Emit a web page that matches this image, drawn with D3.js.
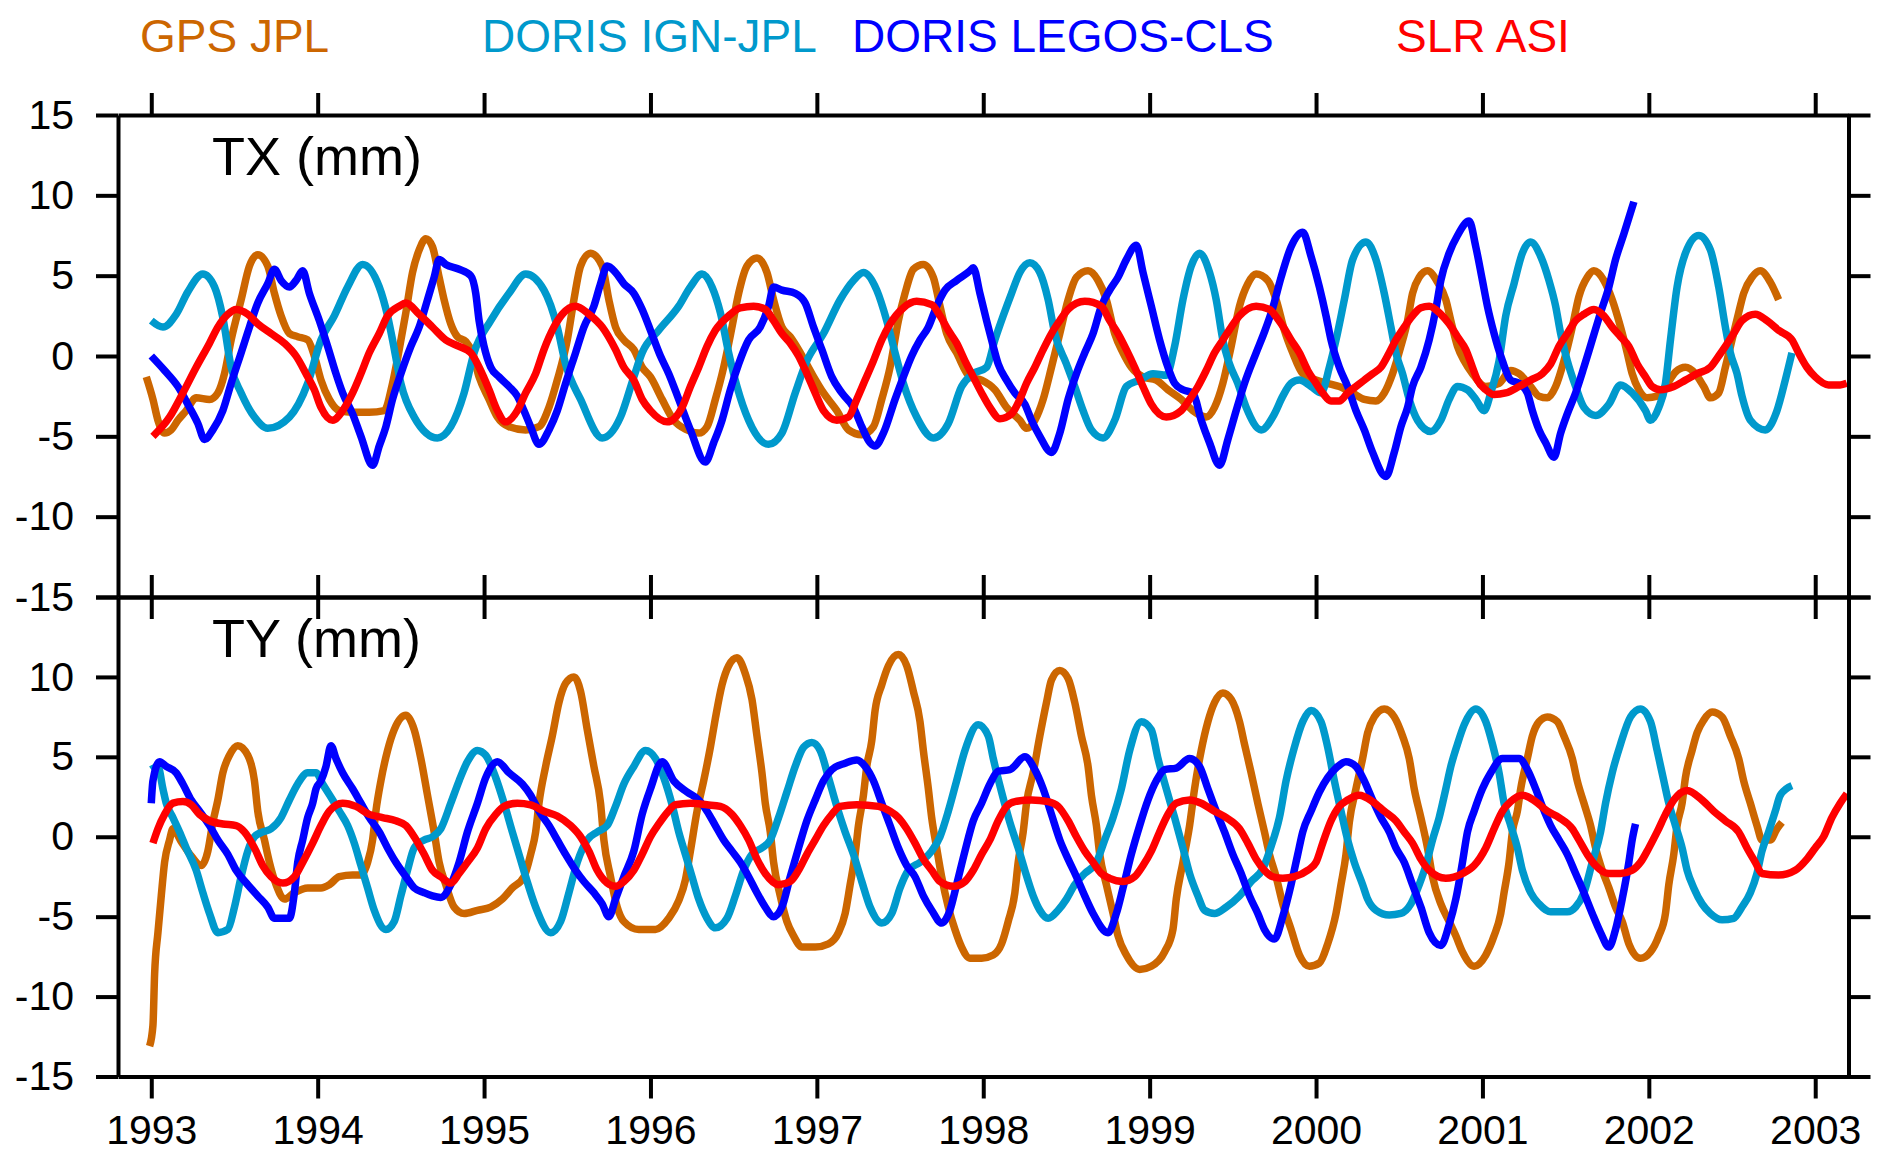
<!DOCTYPE html>
<meta charset="utf-8">
<style>
  body { margin: 0; background: #fff; }
  svg text { font-family: "Liberation Sans", Arial, sans-serif; }
</style>
<div id="container"></div>
<script src="https://cdn.jsdelivr.net/npm/d3@7"></script>
<script>

const names = ['GPS JPL', 'DORIS IGN-JPL', 'DORIS LEGOS-CLS', 'SLR ASI'];
const colors = ['#cc6600', '#0099cc', '#0000ff', '#ff0000'];
const years = [1993, 1994, 1995, 1996, 1997, 1998, 1999, 2000, 2001, 2002, 2003];
const yTicks = [15, 10, 5, 0, -5, -10, -15];

// [decimal year, mm]
const txGps = [[1992.97,-1.3],[1993.01,-2.7],[1993.04,-4.0],[1993.08,-4.8],[1993.12,-4.6],[1993.16,-4.0],[1993.21,-3.4],[1993.27,-2.6],[1993.35,-2.7],[1993.40,-2.3],[1993.44,-1.1],[1993.48,1.0],[1993.54,3.5],[1993.59,5.6],[1993.64,6.3],[1993.70,5.6],[1993.74,3.9],[1993.78,2.5],[1993.83,1.4],[1993.88,1.2],[1993.94,1.0],[1993.98,0.0],[1994.02,-1.5],[1994.07,-2.7],[1994.13,-3.4],[1994.21,-3.5],[1994.31,-3.5],[1994.40,-3.4],[1994.45,-1.7],[1994.49,0.4],[1994.53,2.7],[1994.57,5.2],[1994.61,6.6],[1994.65,7.3],[1994.69,6.8],[1994.73,4.9],[1994.76,3.5],[1994.80,2.0],[1994.84,1.2],[1994.89,0.9],[1994.93,0.2],[1994.97,-1.3],[1995.03,-2.7],[1995.08,-3.8],[1995.15,-4.4],[1995.25,-4.6],[1995.33,-4.4],[1995.39,-3.2],[1995.44,-1.5],[1995.50,1.0],[1995.54,3.5],[1995.58,5.6],[1995.64,6.4],[1995.71,5.6],[1995.75,3.5],[1995.79,1.8],[1995.84,1.0],[1995.90,0.4],[1995.95,-0.7],[1996.00,-1.3],[1996.07,-2.7],[1996.14,-4.0],[1996.22,-4.6],[1996.29,-4.8],[1996.34,-4.4],[1996.39,-2.7],[1996.44,-0.7],[1996.49,1.8],[1996.53,3.9],[1996.58,5.6],[1996.64,6.1],[1996.70,5.2],[1996.74,3.5],[1996.79,1.8],[1996.84,1.2],[1996.89,0.4],[1996.97,-1.1],[1997.04,-2.3],[1997.12,-3.4],[1997.19,-4.6],[1997.27,-4.9],[1997.34,-4.4],[1997.39,-2.7],[1997.44,-0.7],[1997.49,2.2],[1997.53,3.9],[1997.58,5.4],[1997.64,5.7],[1997.70,4.9],[1997.74,3.1],[1997.78,1.4],[1997.84,0.2],[1997.92,-1.3],[1997.99,-1.5],[1998.07,-2.1],[1998.14,-3.2],[1998.22,-4.0],[1998.26,-4.5],[1998.31,-4.0],[1998.36,-2.7],[1998.41,-0.7],[1998.46,1.4],[1998.51,3.5],[1998.56,4.9],[1998.63,5.3],[1998.69,4.7],[1998.74,3.5],[1998.79,1.4],[1998.84,0.2],[1998.89,-0.7],[1998.96,-1.3],[1999.04,-1.5],[1999.11,-2.1],[1999.19,-2.7],[1999.26,-3.4],[1999.34,-3.8],[1999.39,-3.2],[1999.44,-1.7],[1999.49,0.6],[1999.54,3.1],[1999.59,4.5],[1999.64,5.1],[1999.71,4.7],[1999.76,3.5],[1999.81,1.6],[1999.86,0.2],[1999.92,-1.1],[2000.00,-1.5],[2000.07,-1.7],[2000.14,-1.9],[2000.22,-2.3],[2000.29,-2.7],[2000.36,-2.8],[2000.41,-2.3],[2000.46,-1.1],[2000.51,0.6],[2000.55,2.2],[2000.58,3.9],[2000.62,4.9],[2000.67,5.3],[2000.73,4.6],[2000.78,3.5],[2000.81,2.2],[2000.85,0.6],[2000.89,-0.3],[2000.94,-1.1],[2001.02,-1.9],[2001.10,-1.7],[2001.17,-0.9],[2001.22,-1.1],[2001.29,-1.9],[2001.34,-2.5],[2001.39,-2.6],[2001.44,-1.9],[2001.49,-0.3],[2001.54,1.8],[2001.58,3.7],[2001.63,4.9],[2001.67,5.3],[2001.73,4.7],[2001.78,3.5],[2001.83,1.8],[2001.87,0.2],[2001.90,-1.1],[2001.94,-2.1],[2001.99,-2.6],[2002.05,-2.5],[2002.10,-1.9],[2002.16,-1.0],[2002.22,-0.7],[2002.28,-1.1],[2002.33,-1.9],[2002.37,-2.6],[2002.42,-2.3],[2002.46,-0.7],[2002.50,1.0],[2002.54,2.7],[2002.57,3.9],[2002.62,4.9],[2002.67,5.3],[2002.73,4.6],[2002.78,3.5]];

const txIgn = [[1993.00,2.2],[1993.07,1.8],[1993.15,2.6],[1993.22,4.0],[1993.31,5.1],[1993.38,4.3],[1993.43,2.4],[1993.48,-0.7],[1993.54,-2.3],[1993.62,-3.8],[1993.70,-4.5],[1993.83,-3.8],[1993.94,-1.7],[1994.02,1.0],[1994.10,2.5],[1994.18,4.3],[1994.27,5.7],[1994.37,4.3],[1994.42,2.5],[1994.45,1.0],[1994.50,-1.7],[1994.58,-3.8],[1994.72,-5.1],[1994.80,-4.4],[1994.88,-2.3],[1994.94,0.2],[1995.04,2.2],[1995.15,3.9],[1995.25,5.1],[1995.36,4.1],[1995.44,1.8],[1995.49,-0.5],[1995.58,-2.7],[1995.71,-5.1],[1995.82,-3.8],[1995.90,-1.3],[1995.95,0.2],[1996.05,1.6],[1996.17,3.1],[1996.24,4.3],[1996.31,5.1],[1996.37,4.3],[1996.42,2.7],[1996.47,0.2],[1996.52,-1.9],[1996.59,-4.0],[1996.71,-5.5],[1996.79,-4.8],[1996.87,-2.3],[1996.94,-0.3],[1997.04,1.4],[1997.14,3.5],[1997.22,4.7],[1997.28,5.2],[1997.36,4.1],[1997.42,2.2],[1997.47,0.2],[1997.52,-1.7],[1997.60,-3.8],[1997.70,-5.1],[1997.79,-4.2],[1997.87,-1.9],[1997.94,-1.1],[1998.02,-0.7],[1998.07,1.0],[1998.12,2.5],[1998.17,3.9],[1998.22,5.2],[1998.28,5.8],[1998.34,5.2],[1998.39,3.5],[1998.43,1.4],[1998.50,-0.5],[1998.55,-1.9],[1998.60,-3.4],[1998.65,-4.6],[1998.72,-5.1],[1998.79,-4.0],[1998.86,-1.9],[1998.94,-1.5],[1999.02,-1.1],[1999.10,-1.2],[1999.15,0.6],[1999.20,3.5],[1999.25,5.6],[1999.30,6.4],[1999.36,5.2],[1999.40,3.5],[1999.44,1.0],[1999.48,-0.5],[1999.53,-1.7],[1999.58,-3.2],[1999.67,-4.6],[1999.75,-3.6],[1999.80,-2.5],[1999.85,-1.7],[1999.90,-1.5],[1999.97,-1.9],[2000.03,-2.3],[2000.08,-0.7],[2000.12,1.0],[2000.17,3.5],[2000.22,6.0],[2000.30,7.1],[2000.36,6.0],[2000.41,3.9],[2000.45,1.8],[2000.48,0.2],[2000.52,-1.1],[2000.56,-2.7],[2000.61,-4.0],[2000.69,-4.7],[2000.75,-4.0],[2000.80,-2.7],[2000.85,-1.9],[2000.91,-2.1],[2000.96,-2.7],[2001.01,-3.4],[2001.05,-2.3],[2001.10,-0.3],[2001.14,2.5],[2001.19,4.5],[2001.24,6.4],[2001.29,7.1],[2001.35,6.2],[2001.40,4.7],[2001.44,3.1],[2001.47,1.4],[2001.51,-0.3],[2001.56,-1.9],[2001.61,-3.2],[2001.68,-3.7],[2001.76,-3.0],[2001.83,-1.8],[2001.90,-2.3],[2001.98,-3.4],[2002.01,-4.0],[2002.06,-3.2],[2002.10,-1.7],[2002.13,1.0],[2002.17,4.3],[2002.22,6.4],[2002.30,7.5],[2002.37,6.6],[2002.42,4.3],[2002.46,1.8],[2002.49,0.2],[2002.53,-1.1],[2002.56,-2.5],[2002.61,-4.0],[2002.70,-4.6],[2002.77,-3.4],[2002.82,-1.5],[2002.86,0.2]];

const txLegos = [[1993.00,0.0],[1993.08,-0.9],[1993.16,-1.9],[1993.23,-3.2],[1993.28,-4.2],[1993.32,-5.2],[1993.37,-4.6],[1993.43,-3.4],[1993.48,-1.7],[1993.54,0.2],[1993.59,1.8],[1993.64,3.3],[1993.70,4.5],[1993.74,5.4],[1993.78,4.7],[1993.83,4.3],[1993.87,4.7],[1993.91,5.3],[1993.95,3.9],[1994.01,2.2],[1994.06,0.6],[1994.11,-1.1],[1994.15,-2.3],[1994.21,-3.6],[1994.26,-5.0],[1994.33,-6.8],[1994.37,-5.6],[1994.41,-4.4],[1994.45,-2.7],[1994.50,-1.1],[1994.56,0.6],[1994.61,1.8],[1994.66,3.5],[1994.70,4.9],[1994.73,6.0],[1994.77,5.7],[1994.85,5.4],[1994.92,5.0],[1994.95,3.9],[1994.97,2.2],[1995.00,0.6],[1995.04,-0.7],[1995.09,-1.3],[1995.15,-1.9],[1995.20,-2.5],[1995.24,-3.4],[1995.28,-4.4],[1995.33,-5.5],[1995.39,-4.6],[1995.44,-3.4],[1995.49,-1.7],[1995.55,0.2],[1995.60,1.8],[1995.66,3.1],[1995.70,4.5],[1995.74,5.6],[1995.79,5.2],[1995.84,4.5],[1995.90,3.9],[1995.95,2.9],[1996.00,1.6],[1996.06,0.0],[1996.11,-1.1],[1996.17,-2.7],[1996.24,-4.6],[1996.33,-6.6],[1996.38,-5.4],[1996.43,-4.0],[1996.48,-2.1],[1996.53,-0.5],[1996.59,1.0],[1996.66,1.8],[1996.71,3.1],[1996.74,4.3],[1996.79,4.1],[1996.87,3.9],[1996.93,3.3],[1996.98,1.8],[1997.03,0.4],[1997.09,-1.3],[1997.15,-2.3],[1997.22,-3.2],[1997.27,-4.4],[1997.32,-5.4],[1997.35,-5.6],[1997.40,-4.8],[1997.47,-2.7],[1997.52,-1.3],[1997.57,0.0],[1997.62,1.0],[1997.67,1.8],[1997.72,3.1],[1997.77,4.1],[1997.84,4.7],[1997.92,5.3],[1997.94,5.5],[1997.98,3.9],[1998.02,2.2],[1998.05,1.0],[1998.09,-0.5],[1998.14,-1.5],[1998.19,-2.3],[1998.25,-3.0],[1998.29,-4.0],[1998.34,-5.0],[1998.41,-6.0],[1998.46,-4.8],[1998.51,-2.7],[1998.56,-1.1],[1998.61,0.2],[1998.66,1.4],[1998.71,3.1],[1998.76,4.1],[1998.81,4.9],[1998.86,6.0],[1998.92,6.9],[1998.96,5.2],[1999.01,3.1],[1999.06,1.0],[1999.11,-0.7],[1999.15,-1.7],[1999.20,-2.1],[1999.26,-2.3],[1999.31,-4.0],[1999.36,-5.4],[1999.42,-6.8],[1999.47,-5.2],[1999.52,-3.4],[1999.57,-1.7],[1999.64,0.2],[1999.69,1.5],[1999.74,3.0],[1999.79,4.9],[1999.85,6.8],[1999.92,7.7],[1999.97,6.2],[2000.02,4.3],[2000.06,2.5],[2000.09,1.0],[2000.14,-0.7],[2000.19,-1.9],[2000.24,-3.4],[2000.29,-4.6],[2000.34,-6.0],[2000.42,-7.5],[2000.47,-6.0],[2000.51,-4.4],[2000.55,-3.2],[2000.58,-1.9],[2000.63,-0.7],[2000.68,1.0],[2000.72,2.9],[2000.75,4.7],[2000.80,6.4],[2000.85,7.5],[2000.92,8.4],[2000.96,6.8],[2001.00,4.7],[2001.03,3.1],[2001.07,1.4],[2001.12,-0.3],[2001.17,-1.5],[2001.22,-1.7],[2001.27,-2.3],[2001.30,-3.4],[2001.34,-4.6],[2001.38,-5.4],[2001.43,-6.3],[2001.47,-4.8],[2001.51,-3.6],[2001.56,-2.3],[2001.61,-0.7],[2001.66,1.0],[2001.71,2.7],[2001.76,4.3],[2001.80,6.0],[2001.85,7.6],[2001.91,9.6]];

const txSlr = [[1993.01,-5.0],[1993.11,-3.8],[1993.19,-2.3],[1993.27,-0.7],[1993.35,0.8],[1993.40,1.8],[1993.46,2.6],[1993.51,2.9],[1993.58,2.6],[1993.64,2.0],[1993.72,1.4],[1993.80,0.8],[1993.87,0.0],[1993.93,-1.1],[1993.98,-2.1],[1994.02,-3.2],[1994.09,-4.0],[1994.15,-3.4],[1994.21,-2.3],[1994.26,-1.1],[1994.31,0.2],[1994.37,1.4],[1994.42,2.5],[1994.49,3.1],[1994.53,3.3],[1994.61,2.6],[1994.69,1.8],[1994.77,1.0],[1994.85,0.6],[1994.92,0.2],[1994.97,-0.7],[1995.03,-2.1],[1995.08,-3.4],[1995.13,-4.1],[1995.20,-3.4],[1995.25,-2.3],[1995.31,-1.1],[1995.36,0.4],[1995.42,1.8],[1995.47,2.6],[1995.55,3.1],[1995.63,2.6],[1995.71,1.8],[1995.79,0.4],[1995.84,-0.7],[1995.90,-1.5],[1995.95,-2.7],[1996.00,-3.4],[1996.10,-4.1],[1996.19,-3.2],[1996.24,-1.9],[1996.29,-0.7],[1996.34,0.6],[1996.39,1.6],[1996.47,2.5],[1996.54,3.0],[1996.62,3.1],[1996.69,2.9],[1996.74,2.2],[1996.79,1.4],[1996.84,0.8],[1996.89,0.0],[1996.94,-1.1],[1996.99,-2.3],[1997.04,-3.4],[1997.12,-4.0],[1997.19,-3.8],[1997.24,-2.7],[1997.29,-1.5],[1997.34,-0.3],[1997.39,1.0],[1997.44,2.0],[1997.52,3.0],[1997.60,3.4],[1997.69,3.2],[1997.74,2.5],[1997.79,1.6],[1997.84,0.8],[1997.89,-0.3],[1997.94,-1.3],[1997.99,-2.3],[1998.04,-3.2],[1998.10,-3.9],[1998.17,-3.6],[1998.22,-2.7],[1998.26,-1.7],[1998.31,-0.7],[1998.36,0.4],[1998.41,1.4],[1998.46,2.2],[1998.51,2.9],[1998.61,3.4],[1998.71,3.1],[1998.76,2.2],[1998.81,1.4],[1998.86,0.4],[1998.91,-0.7],[1998.96,-1.9],[1999.01,-3.0],[1999.10,-3.8],[1999.19,-3.4],[1999.24,-2.7],[1999.29,-1.9],[1999.34,-0.9],[1999.39,0.2],[1999.44,1.0],[1999.49,1.8],[1999.54,2.5],[1999.64,3.1],[1999.72,2.9],[1999.77,2.3],[1999.81,1.7],[1999.85,1.0],[1999.90,0.2],[1999.95,-0.9],[2000.00,-1.7],[2000.04,-2.3],[2000.09,-2.8],[2000.14,-2.8],[2000.19,-2.3],[2000.24,-1.9],[2000.29,-1.5],[2000.34,-1.1],[2000.39,-0.7],[2000.44,0.2],[2000.48,1.0],[2000.53,1.8],[2000.58,2.5],[2000.63,3.0],[2000.68,3.1],[2000.75,2.6],[2000.80,2.0],[2000.85,1.2],[2000.90,0.4],[2000.94,-0.7],[2000.97,-1.5],[2001.02,-2.1],[2001.07,-2.4],[2001.14,-2.3],[2001.22,-1.9],[2001.29,-1.5],[2001.36,-1.1],[2001.41,-0.5],[2001.46,0.6],[2001.51,1.4],[2001.56,2.2],[2001.61,2.6],[2001.67,2.9],[2001.73,2.5],[2001.78,1.8],[2001.83,1.2],[2001.88,0.6],[2001.93,-0.5],[2001.98,-1.3],[2002.02,-1.9],[2002.07,-2.1],[2002.15,-1.9],[2002.22,-1.5],[2002.29,-1.1],[2002.37,-0.7],[2002.42,0.0],[2002.46,0.6],[2002.51,1.4],[2002.56,2.2],[2002.64,2.6],[2002.71,2.2],[2002.78,1.6],[2002.86,1.0],[2002.90,0.2],[2002.95,-0.7],[2003.00,-1.3],[2003.08,-1.8],[2003.15,-1.8],[2003.19,-1.7]];

const tyGps = [[1992.99,-13.1],[1993.01,-11.8],[1993.02,-8.6],[1993.04,-6.0],[1993.06,-3.7],[1993.08,-1.6],[1993.11,-0.2],[1993.13,0.5],[1993.18,-0.3],[1993.24,-1.2],[1993.30,-1.8],[1993.34,-0.9],[1993.37,0.9],[1993.40,2.3],[1993.43,4.0],[1993.47,5.1],[1993.52,5.7],[1993.58,5.1],[1993.62,3.5],[1993.64,1.6],[1993.68,-0.2],[1993.71,-1.6],[1993.75,-3.0],[1993.80,-3.9],[1993.86,-3.5],[1993.94,-3.2],[1994.02,-3.2],[1994.07,-3.0],[1994.13,-2.5],[1994.21,-2.4],[1994.26,-2.4],[1994.30,-1.6],[1994.33,-0.2],[1994.35,1.6],[1994.38,3.5],[1994.42,5.4],[1994.46,6.7],[1994.53,7.6],[1994.58,6.7],[1994.62,4.9],[1994.66,2.6],[1994.70,0.3],[1994.73,-1.6],[1994.77,-3.0],[1994.82,-4.4],[1994.88,-4.8],[1994.96,-4.6],[1995.04,-4.4],[1995.11,-3.9],[1995.17,-3.2],[1995.24,-2.5],[1995.28,-1.1],[1995.31,0.3],[1995.33,2.1],[1995.37,4.4],[1995.41,6.3],[1995.45,8.4],[1995.49,9.6],[1995.54,10.0],[1995.58,9.1],[1995.62,6.7],[1995.66,4.4],[1995.70,2.1],[1995.72,-0.2],[1995.76,-2.5],[1995.80,-4.4],[1995.84,-5.3],[1995.93,-5.8],[1996.03,-5.8],[1996.11,-5.1],[1996.17,-4.0],[1996.21,-2.7],[1996.24,-0.9],[1996.28,1.6],[1996.32,3.5],[1996.36,5.6],[1996.39,7.4],[1996.43,9.5],[1996.47,10.7],[1996.52,11.2],[1996.57,10.2],[1996.61,8.6],[1996.64,6.3],[1996.67,4.0],[1996.69,2.1],[1996.72,0.3],[1996.74,-1.6],[1996.78,-3.7],[1996.82,-5.3],[1996.86,-6.2],[1996.91,-6.9],[1996.99,-6.9],[1997.07,-6.7],[1997.13,-6.0],[1997.17,-4.8],[1997.20,-3.0],[1997.23,-1.1],[1997.25,0.7],[1997.28,2.6],[1997.30,4.4],[1997.33,6.0],[1997.35,7.9],[1997.39,9.5],[1997.43,10.7],[1997.49,11.4],[1997.54,10.7],[1997.58,9.1],[1997.62,7.2],[1997.64,5.4],[1997.67,3.0],[1997.69,1.2],[1997.72,-0.7],[1997.75,-2.5],[1997.79,-4.4],[1997.83,-5.8],[1997.87,-6.9],[1997.92,-7.6],[1997.99,-7.6],[1998.06,-7.4],[1998.11,-6.7],[1998.15,-5.3],[1998.19,-3.5],[1998.21,-1.6],[1998.24,0.3],[1998.26,2.1],[1998.30,4.0],[1998.34,6.3],[1998.38,8.4],[1998.41,9.8],[1998.46,10.4],[1998.51,9.9],[1998.55,8.4],[1998.59,6.3],[1998.63,4.4],[1998.65,2.6],[1998.68,0.7],[1998.70,-1.1],[1998.74,-3.0],[1998.78,-4.8],[1998.81,-6.2],[1998.86,-7.4],[1998.94,-8.3],[1999.01,-8.1],[1999.09,-7.2],[1999.14,-5.8],[1999.16,-3.9],[1999.20,-1.6],[1999.24,0.7],[1999.27,3.0],[1999.31,5.4],[1999.35,7.2],[1999.39,8.4],[1999.44,9.0],[1999.49,8.6],[1999.54,7.2],[1999.57,5.8],[1999.61,4.0],[1999.65,2.1],[1999.69,0.3],[1999.72,-1.1],[1999.76,-2.5],[1999.80,-4.2],[1999.85,-5.8],[1999.90,-7.4],[1999.96,-8.1],[2000.02,-7.9],[2000.07,-6.7],[2000.12,-4.8],[2000.15,-3.0],[2000.18,-1.1],[2000.20,0.9],[2000.24,3.0],[2000.28,4.9],[2000.31,6.5],[2000.35,7.5],[2000.41,8.0],[2000.47,7.5],[2000.52,6.3],[2000.56,4.9],[2000.59,3.0],[2000.63,1.2],[2000.67,-0.7],[2000.70,-2.5],[2000.75,-4.2],[2000.80,-5.3],[2000.84,-6.2],[2000.88,-7.2],[2000.95,-8.1],[2001.02,-7.4],[2001.07,-6.2],[2001.11,-4.8],[2001.13,-3.5],[2001.16,-1.6],[2001.18,0.3],[2001.21,1.6],[2001.23,3.0],[2001.27,4.9],[2001.30,6.3],[2001.34,7.2],[2001.39,7.5],[2001.45,7.2],[2001.49,6.3],[2001.54,4.9],[2001.57,3.5],[2001.61,2.1],[2001.65,0.7],[2001.68,-0.7],[2001.72,-2.1],[2001.76,-3.2],[2001.80,-4.4],[2001.84,-5.3],[2001.88,-6.7],[2001.95,-7.6],[2002.01,-7.2],[2002.06,-6.2],[2002.10,-4.8],[2002.12,-3.0],[2002.15,-1.1],[2002.17,0.7],[2002.20,2.1],[2002.22,3.7],[2002.26,5.4],[2002.29,6.5],[2002.33,7.3],[2002.38,7.8],[2002.44,7.5],[2002.49,6.3],[2002.54,4.9],[2002.57,3.5],[2002.61,2.1],[2002.65,0.7],[2002.68,-0.2],[2002.73,-0.2],[2002.77,0.5],[2002.80,0.9]];

const tyIgn = [[1993.00,4.2],[1993.04,4.4],[1993.07,3.0],[1993.09,2.1],[1993.13,1.2],[1993.17,0.3],[1993.21,-0.7],[1993.27,-2.1],[1993.31,-3.5],[1993.35,-4.8],[1993.40,-6.0],[1993.46,-5.8],[1993.50,-4.4],[1993.54,-2.5],[1993.58,-0.9],[1993.62,0.0],[1993.67,0.3],[1993.72,0.5],[1993.78,1.2],[1993.83,2.3],[1993.88,3.3],[1993.94,4.0],[1993.99,4.0],[1994.03,3.3],[1994.09,2.3],[1994.13,1.6],[1994.18,0.7],[1994.22,-0.4],[1994.26,-1.8],[1994.30,-3.2],[1994.34,-4.6],[1994.41,-5.8],[1994.46,-5.3],[1994.50,-3.7],[1994.54,-2.1],[1994.58,-0.7],[1994.64,-0.2],[1994.69,0.0],[1994.74,0.5],[1994.80,2.1],[1994.85,3.5],[1994.90,4.7],[1994.96,5.4],[1995.01,5.1],[1995.07,3.7],[1995.12,2.1],[1995.17,0.3],[1995.21,-1.1],[1995.25,-2.5],[1995.31,-4.4],[1995.40,-6.0],[1995.46,-5.3],[1995.51,-3.5],[1995.56,-1.6],[1995.62,-0.2],[1995.68,0.3],[1995.74,0.7],[1995.79,1.9],[1995.84,3.3],[1995.90,4.4],[1995.97,5.4],[1996.03,4.9],[1996.08,3.7],[1996.13,2.0],[1996.17,0.3],[1996.21,-1.1],[1996.25,-2.5],[1996.29,-3.9],[1996.34,-5.1],[1996.39,-5.7],[1996.46,-5.1],[1996.51,-3.7],[1996.56,-2.1],[1996.61,-1.1],[1996.67,-0.7],[1996.72,-0.2],[1996.77,1.2],[1996.82,2.8],[1996.87,4.4],[1996.92,5.6],[1996.97,5.9],[1997.02,5.4],[1997.07,3.7],[1997.12,1.9],[1997.17,0.3],[1997.22,-1.1],[1997.27,-2.8],[1997.32,-4.4],[1997.39,-5.4],[1997.45,-4.8],[1997.50,-3.2],[1997.55,-2.1],[1997.62,-1.6],[1997.69,-0.9],[1997.74,0.0],[1997.79,1.6],[1997.84,3.5],[1997.89,5.4],[1997.97,7.0],[1998.03,6.3],[1998.06,4.9],[1998.11,2.8],[1998.16,0.9],[1998.21,-0.7],[1998.25,-2.1],[1998.30,-3.7],[1998.34,-4.6],[1998.39,-5.1],[1998.45,-4.6],[1998.50,-3.9],[1998.55,-3.0],[1998.61,-2.3],[1998.68,-1.6],[1998.73,-0.2],[1998.78,1.2],[1998.83,3.0],[1998.88,5.4],[1998.95,7.2],[1999.01,6.7],[1999.05,4.9],[1999.10,3.0],[1999.15,1.2],[1999.20,-0.7],[1999.24,-2.3],[1999.29,-3.7],[1999.33,-4.6],[1999.39,-4.8],[1999.46,-4.4],[1999.54,-3.7],[1999.61,-2.8],[1999.68,-2.0],[1999.73,-0.6],[1999.78,1.2],[1999.82,3.5],[1999.87,5.6],[1999.92,7.2],[1999.97,7.9],[2000.03,7.2],[2000.07,5.6],[2000.11,3.5],[2000.15,1.6],[2000.19,-0.2],[2000.23,-1.6],[2000.28,-3.0],[2000.31,-3.9],[2000.36,-4.6],[2000.44,-4.9],[2000.51,-4.8],[2000.57,-4.2],[2000.62,-3.0],[2000.66,-1.8],[2000.70,-0.2],[2000.74,1.2],[2000.78,3.0],[2000.81,4.4],[2000.85,5.8],[2000.89,7.0],[2000.96,8.0],[2001.02,7.2],[2001.06,5.8],[2001.10,4.0],[2001.13,2.1],[2001.17,0.7],[2001.21,-0.7],[2001.24,-2.1],[2001.29,-3.5],[2001.34,-4.2],[2001.41,-4.7],[2001.51,-4.7],[2001.56,-4.4],[2001.61,-3.5],[2001.66,-1.6],[2001.71,0.3],[2001.74,2.1],[2001.78,4.0],[2001.83,5.8],[2001.89,7.5],[2001.95,8.0],[2002.01,7.2],[2002.05,5.4],[2002.09,3.5],[2002.12,2.1],[2002.16,0.7],[2002.20,-0.7],[2002.23,-2.1],[2002.27,-3.2],[2002.32,-4.2],[2002.37,-4.8],[2002.44,-5.2],[2002.51,-5.1],[2002.56,-4.4],[2002.61,-3.5],[2002.65,-2.3],[2002.68,-0.9],[2002.72,0.3],[2002.76,1.6],[2002.79,2.6],[2002.86,3.2]];

const tyLegos = [[1993.00,2.1],[1993.01,3.5],[1993.05,4.7],[1993.09,4.4],[1993.15,4.0],[1993.19,3.3],[1993.24,2.3],[1993.29,1.6],[1993.35,0.7],[1993.40,-0.2],[1993.46,-1.1],[1993.51,-2.1],[1993.58,-3.0],[1993.64,-3.7],[1993.70,-4.4],[1993.74,-5.1],[1993.83,-5.1],[1993.86,-3.5],[1993.88,-1.6],[1993.91,-0.2],[1993.94,1.2],[1993.97,2.1],[1993.99,3.0],[1994.02,3.5],[1994.05,4.4],[1994.08,5.7],[1994.11,4.9],[1994.15,4.0],[1994.21,3.0],[1994.26,2.1],[1994.31,1.2],[1994.37,0.3],[1994.42,-0.7],[1994.47,-1.6],[1994.53,-2.5],[1994.58,-3.2],[1994.64,-3.5],[1994.69,-3.7],[1994.74,-3.8],[1994.80,-3.0],[1994.85,-1.6],[1994.90,0.3],[1994.96,2.1],[1995.01,3.7],[1995.08,4.7],[1995.15,4.0],[1995.23,3.3],[1995.28,2.6],[1995.33,1.6],[1995.39,0.7],[1995.44,-0.2],[1995.49,-1.1],[1995.55,-2.1],[1995.60,-2.8],[1995.66,-3.5],[1995.71,-4.2],[1995.75,-5.0],[1995.79,-3.9],[1995.84,-2.5],[1995.90,-0.9],[1995.95,1.4],[1996.00,3.0],[1996.07,4.7],[1996.14,3.5],[1996.22,2.8],[1996.29,2.3],[1996.34,1.6],[1996.39,0.7],[1996.44,-0.2],[1996.49,-0.9],[1996.54,-1.6],[1996.59,-2.5],[1996.64,-3.5],[1996.69,-4.4],[1996.74,-5.0],[1996.79,-4.4],[1996.84,-2.5],[1996.89,-0.7],[1996.94,1.0],[1996.99,2.3],[1997.04,3.5],[1997.09,4.2],[1997.17,4.6],[1997.24,4.8],[1997.29,4.4],[1997.34,3.5],[1997.39,2.1],[1997.44,0.7],[1997.49,-0.7],[1997.54,-1.8],[1997.59,-2.5],[1997.64,-3.7],[1997.69,-4.6],[1997.75,-5.4],[1997.80,-4.6],[1997.84,-3.0],[1997.89,-0.9],[1997.94,1.0],[1997.99,2.1],[1998.04,3.3],[1998.09,4.1],[1998.16,4.2],[1998.25,5.0],[1998.31,4.2],[1998.36,3.0],[1998.41,1.4],[1998.46,-0.2],[1998.51,-1.4],[1998.56,-2.5],[1998.61,-3.7],[1998.66,-4.8],[1998.75,-6.0],[1998.80,-4.8],[1998.84,-3.2],[1998.89,-1.1],[1998.94,0.7],[1998.99,2.3],[1999.04,3.5],[1999.09,4.2],[1999.16,4.3],[1999.24,4.9],[1999.30,4.4],[1999.35,3.0],[1999.40,1.6],[1999.45,0.3],[1999.50,-1.1],[1999.55,-2.3],[1999.60,-3.7],[1999.65,-4.8],[1999.69,-5.8],[1999.75,-6.4],[1999.80,-5.0],[1999.85,-3.0],[1999.89,-1.1],[1999.92,0.3],[1999.97,1.6],[2000.02,2.8],[2000.07,3.7],[2000.12,4.3],[2000.18,4.7],[2000.24,4.4],[2000.29,3.5],[2000.34,2.3],[2000.39,1.2],[2000.44,0.3],[2000.48,-0.7],[2000.53,-1.6],[2000.58,-3.0],[2000.63,-4.4],[2000.68,-6.0],[2000.75,-6.8],[2000.80,-5.5],[2000.84,-3.9],[2000.88,-1.6],[2000.91,0.3],[2000.95,1.6],[2001.00,3.0],[2001.05,4.0],[2001.12,4.9],[2001.22,4.9],[2001.27,4.2],[2001.32,3.0],[2001.36,1.9],[2001.41,0.7],[2001.46,-0.2],[2001.51,-1.1],[2001.56,-2.3],[2001.61,-3.5],[2001.66,-4.8],[2001.71,-6.0],[2001.76,-6.9],[2001.80,-5.8],[2001.84,-3.9],[2001.88,-1.6],[2001.90,-0.2],[2001.92,0.8]];

const tySlr = [[1993.01,-0.4],[1993.04,0.5],[1993.08,1.4],[1993.13,2.1],[1993.19,2.2],[1993.24,2.0],[1993.29,1.4],[1993.35,1.0],[1993.43,0.8],[1993.51,0.7],[1993.56,0.3],[1993.62,-0.7],[1993.67,-1.8],[1993.72,-2.5],[1993.79,-2.9],[1993.86,-2.5],[1993.91,-1.6],[1993.97,-0.4],[1994.02,0.7],[1994.07,1.6],[1994.15,2.1],[1994.23,1.9],[1994.31,1.4],[1994.39,1.2],[1994.47,1.0],[1994.53,0.7],[1994.58,0.0],[1994.64,-1.1],[1994.69,-2.1],[1994.74,-2.5],[1994.80,-2.9],[1994.85,-2.3],[1994.90,-1.6],[1994.96,-0.7],[1995.01,0.5],[1995.07,1.4],[1995.12,1.9],[1995.20,2.1],[1995.28,2.0],[1995.36,1.6],[1995.44,1.3],[1995.52,0.7],[1995.58,0.0],[1995.63,-0.9],[1995.68,-2.1],[1995.74,-2.9],[1995.79,-3.1],[1995.84,-2.8],[1995.90,-2.1],[1995.95,-1.1],[1996.00,0.0],[1996.05,0.8],[1996.10,1.5],[1996.15,2.0],[1996.24,2.1],[1996.34,2.0],[1996.42,1.9],[1996.49,1.4],[1996.54,0.7],[1996.59,-0.2],[1996.64,-1.4],[1996.69,-2.3],[1996.77,-3.0],[1996.84,-2.8],[1996.89,-2.1],[1996.94,-1.1],[1996.99,-0.2],[1997.04,0.7],[1997.09,1.4],[1997.14,1.9],[1997.24,2.0],[1997.37,1.9],[1997.44,1.6],[1997.49,1.2],[1997.54,0.5],[1997.59,-0.4],[1997.64,-1.4],[1997.69,-2.1],[1997.74,-2.8],[1997.82,-3.1],[1997.89,-2.8],[1997.94,-2.1],[1997.99,-1.1],[1998.04,-0.2],[1998.09,1.0],[1998.14,1.9],[1998.19,2.2],[1998.29,2.3],[1998.39,2.2],[1998.45,1.9],[1998.51,1.0],[1998.56,0.0],[1998.61,-0.9],[1998.66,-1.6],[1998.71,-2.3],[1998.76,-2.6],[1998.84,-2.8],[1998.91,-2.5],[1998.96,-1.8],[1999.01,-0.9],[1999.06,0.3],[1999.11,1.4],[1999.16,2.1],[1999.24,2.3],[1999.31,2.1],[1999.39,1.6],[1999.46,1.2],[1999.54,0.5],[1999.59,-0.4],[1999.64,-1.4],[1999.69,-2.1],[1999.74,-2.5],[1999.80,-2.6],[1999.87,-2.5],[1999.95,-2.1],[2000.00,-1.6],[2000.04,-0.4],[2000.09,1.0],[2000.14,1.9],[2000.19,2.3],[2000.26,2.6],[2000.34,2.2],[2000.41,1.6],[2000.48,1.0],[2000.53,0.3],[2000.58,-0.4],[2000.63,-1.4],[2000.68,-2.1],[2000.78,-2.6],[2000.88,-2.3],[2000.95,-1.8],[2001.02,-0.7],[2001.07,0.5],[2001.12,1.6],[2001.17,2.2],[2001.24,2.6],[2001.32,2.2],[2001.39,1.6],[2001.46,1.2],[2001.54,0.5],[2001.58,-0.2],[2001.63,-1.1],[2001.68,-1.8],[2001.76,-2.3],[2001.83,-2.3],[2001.90,-2.1],[2001.95,-1.6],[2002.00,-0.7],[2002.05,0.3],[2002.10,1.4],[2002.15,2.3],[2002.23,2.9],[2002.32,2.3],[2002.39,1.6],[2002.46,1.0],[2002.54,0.3],[2002.59,-0.7],[2002.64,-1.6],[2002.68,-2.3],[2002.78,-2.4],[2002.88,-2.1],[2002.95,-1.4],[2003.00,-0.7],[2003.05,0.0],[2003.10,1.2],[2003.15,2.1],[2003.19,2.7]];

const width = 1888;
const height = 1161;
const left = 118, right = 1848.5;
const tickLen = 22;

const svg = d3.create("svg")
    .attr("width", width)
    .attr("height", height)
    .style("background", "#fff");

const x = d3.scaleLinear()
    .domain([1992.8, 2003.2])
    .range([left, right]);

// legend
const legendX = [140, 482, 852, 1396];
svg.append("g").selectAll("text").data(names).enter().append("text")
    .attr("x", (d, i) => legendX[i])
    .attr("y", 52)
    .attr("font-size", 46)
    .attr("fill", (d, i) => colors[i])
    .text(d => d);

const panels = [
  { title: "TX (mm)", top: 115, bottom: 597, series: [txGps, txIgn, txLegos, txSlr], labels: yTicks, xLabels: false },
  { title: "TY (mm)", top: 597, bottom: 1076.5, series: [tyGps, tyIgn, tyLegos, tySlr], labels: yTicks.slice(1), xLabels: true }
];

const fmt = d => d < 0 ? "-" + Math.abs(d) : String(d);

panels.forEach(p => {
  const y = d3.scaleLinear().domain([-15, 15]).range([p.bottom, p.top]);
  const g = svg.append("g");

  const line = d3.line()
      .x(d => x(d[0]))
      .y(d => y(d[1]))
      .curve(d3.curveMonotoneX);

  g.selectAll("path.series").data(p.series).enter().append("path")
      .attr("class", "series")
      .attr("d", line)
      .attr("fill", "none")
      .attr("stroke", (d, i) => colors[i])
      .attr("stroke-width", 7.5)
      .attr("stroke-linejoin", "round");

  g.append("g")
      .attr("transform", `translate(${left},0)`)
      .call(d3.axisLeft(y).tickValues(yTicks).tickSize(tickLen).tickSizeOuter(0).tickPadding(22)
        .tickFormat(d => p.labels.includes(d) ? fmt(d) : ""));

  g.append("g")
      .attr("transform", `translate(${right},0)`)
      .call(d3.axisRight(y).tickValues(yTicks).tickSize(tickLen).tickSizeOuter(0).tickFormat(""));

  g.append("g")
      .attr("transform", `translate(0,${p.top})`)
      .call(d3.axisTop(x).tickValues(years).tickSize(tickLen).tickSizeOuter(0).tickFormat(""));

  g.append("g")
      .attr("transform", `translate(0,${p.bottom})`)
      .call(d3.axisBottom(x).tickValues(years).tickSize(tickLen).tickSizeOuter(0).tickPadding(16)
        .tickFormat(p.xLabels ? d3.format("d") : ""));

  g.append("text")
      .attr("x", 212)
      .attr("y", p.top + 60)
      .attr("font-size", 54)
      .text(p.title);
});

svg.selectAll(".domain").attr("stroke", "#000").attr("stroke-width", 4);
svg.selectAll(".tick line").attr("stroke", "#000").attr("stroke-width", 4);
svg.selectAll(".tick text")
    .attr("font-family", '"Liberation Sans", Arial, sans-serif')
    .attr("font-size", 41)
    .attr("fill", "#000");

container.append(svg.node());

</script>
